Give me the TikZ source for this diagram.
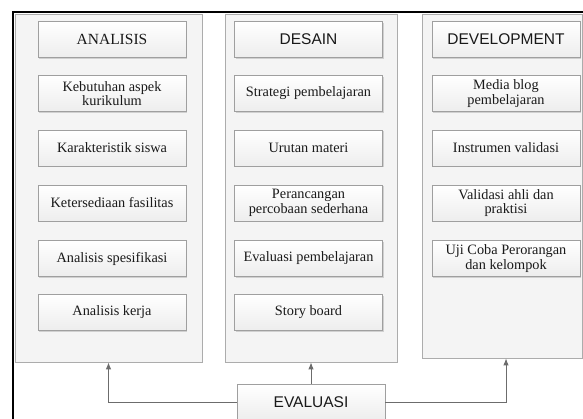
\documentclass[tikz,border=0pt]{standalone}
\usepackage{fontspec}
\setmainfont{Liberation Serif}
\newfontfamily\headfont{Liberation Sans}
\usetikzlibrary{%
  arrows,%
  arrows.meta,%
  calc,%
  shadows%
}
\tikzset{>=latex}
\tikzset{
  panelbox/.style={draw=gray!65, fill=gray!9, line width=0.8pt},
  itembox/.style={draw=gray!75, top color=white, bottom color=gray!14,
    line width=0.8pt, minimum width=148pt, minimum height=36pt,
    inner sep=1pt, align=center, text=black!90,
    font=\fontsize{14.3}{14.5}\selectfont,
    drop shadow={shadow xshift=1pt, shadow yshift=-1pt, opacity=0.3}},
  titlebox/.style={itembox, font=\headfont\fontsize{15.5}{16}\selectfont},
  evalline/.style={draw=gray!85!black, line width=0.9pt,
    -{Latex[length=7pt,width=5.5pt]}}
}

\begin{document}
\begin{tikzpicture}[x=1pt,y=-1pt]
    \useasboundingbox (0,0) rectangle (583,418);
    \clip (0,0) rectangle (583,418);
    % outer frame
    \draw[line width=1.6pt] (13,440) -- (13,12) -- (600,12);
    % columns
    \node[panelbox, minimum width=187pt, minimum height=348pt] (pa) at (108.5,188) {};
    \node[panelbox, minimum width=172pt, minimum height=348pt] (pd) at (311,188) {};
    \node[panelbox, minimum width=160pt, minimum height=344pt] (pv) at (502,186) {};
    % analisis
    \node[titlebox, font=\rmfamily\fontsize{15.5}{16}\selectfont] (a1) at (112,39.5) {ANALISIS};
    \node[itembox] (a2) at (112,93.5) {Kebutuhan aspek\\kurikulum};
    \node[itembox] (a3) at (112,148) {Karakteristik siswa};
    \node[itembox] (a4) at (112,203) {Ketersediaan fasilitas};
    \node[itembox] (a5) at (112,258.5) {Analisis spesifikasi};
    \node[itembox] (a6) at (112,312.5) {Analisis kerja};
    % desain
    \node[titlebox] (d1) at (308.5,39.5) {DESAIN};
    \node[itembox] (d2) at (308.5,93.5) {Strategi pembelajaran};
    \node[itembox] (d3) at (308.5,148) {Urutan materi};
    \node[itembox] (d4) at (308.5,203) {Perancangan\\percobaan sederhana};
    \node[itembox] (d5) at (308.5,258.5) {Evaluasi pembelajaran};
    \node[itembox] (d6) at (308.5,312.5) {Story board};
    % development
    \node[titlebox] (v1) at (506,39.5) {DEVELOPMENT};
    \node[itembox] (v2) at (506,93.5) {Media blog\\pembelajaran};
    \node[itembox] (v3) at (506,148) {Instrumen validasi};
    \node[itembox] (v4) at (506,203) {Validasi ahli dan\\praktisi};
    \node[itembox] (v5) at (506,258.5) {Uji Coba Perorangan\\dan kelompok};
    % evaluasi
    \node[titlebox] (ev) at (311,402) {EVALUASI};
    \draw[evalline] (ev.west) -| (pa.south);
    \draw[evalline] (ev.north) -- (ev.north |- pd.south);
    \draw[evalline] (ev.east) -| (pv.south -| v1);
\end{tikzpicture}
\end{document}
